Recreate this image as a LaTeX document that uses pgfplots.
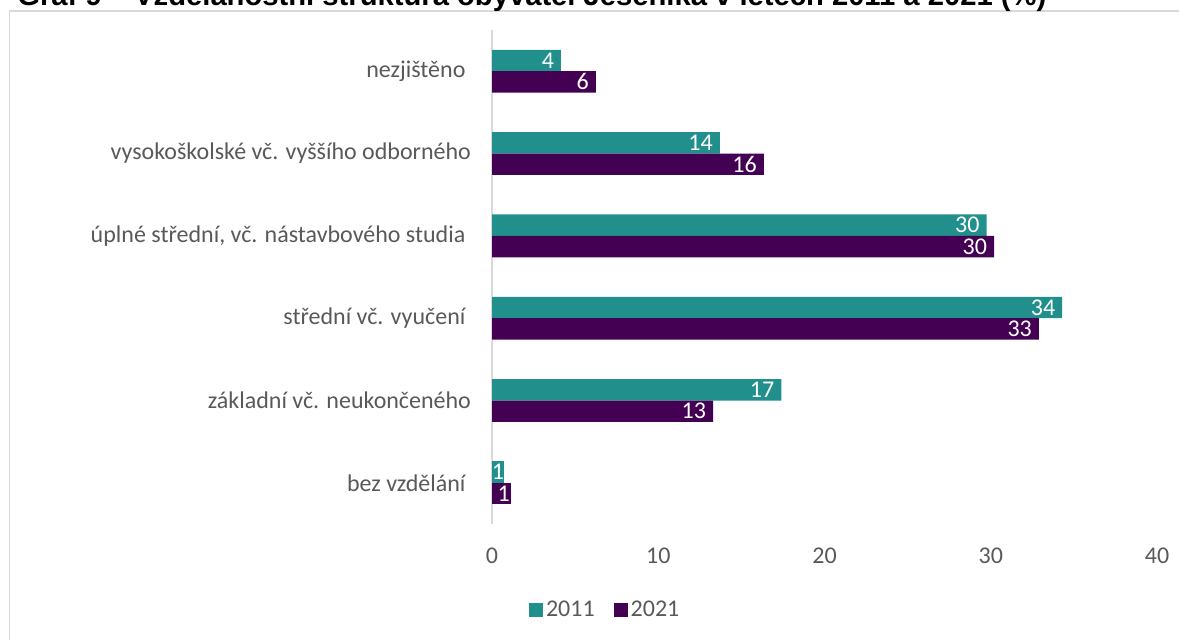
\documentclass[border=0pt]{standalone}
\usepackage{fontspec}
\setmainfont{Carlito}
\newfontfamily\titlefont{Liberation Sans}
\usepackage{pgfplots}
\usepackage{pgfplotstable}
\pgfplotsset{compat=1.18}

\definecolor{c2011}{HTML}{21908C}
\definecolor{c2021}{HTML}{440154}
\definecolor{txtgray}{HTML}{595959}
\definecolor{framegray}{HTML}{D9D9D9}

% y = category index (1 = základní ... 5 = nezjištěno); row 0 (bez vzdělání) kept apart
\pgfplotstableread{
y x lbl
5 4.15 4
4 13.7 14
3 29.75 30
2 34.3 34
1 17.4 17
}\dataA
\pgfplotstableread{
y x lbl
5 6.25 6
4 16.35 16
3 30.2 30
2 32.9 33
1 13.3 13
}\dataB
\pgfplotstableread{
y x lbl
0 0.75 1
}\dataAsmall
\pgfplotstableread{
y x lbl
0 1.15 1
}\dataBsmall

\begin{document}
\begin{tikzpicture}
\draw[framegray, line width=0.6pt] (4.75pt,-10pt) -- (4.75pt,314pt) -- (600pt,314pt);
\node[anchor=base west, inner sep=0pt, font=\titlefont\bfseries\fontsize{14.6}{16}\selectfont]
  at (8.5pt,316.5pt) {Graf 9 – Vzdělanostní struktura obyvatel Jeseníka v letech 2011 a 2021 (\%)};
\begin{axis}[
  at={(246pt,57.5pt)}, anchor=south west,
  scale only axis, width=332.5pt, height=247pt,
  xmin=0, xmax=40, ymin=-0.5, ymax=5.5,
  xtick={0,10,20,30,40},
  ytick={0,1,2,3,4,5},
  yticklabels={bez vzdělání\kern0.23em, základní vč. neukončeného, střední vč. vyučení\kern0.23em, {úplné střední, vč. nástavbového studia\kern0.23em}, vysokoškolské vč. vyššího odborného, nezjištěno\kern0.23em},
  axis x line*=bottom, x axis line style={draw=none},
  axis y line*=left, y axis line style={draw=framegray, line width=1pt},
  major tick length=0pt, tick style={draw=none},
  /pgf/number format/assume math mode=true,
  tick label style={font=\fontsize{12}{14}\selectfont, text=txtgray},
  yticklabel style={xshift=-7pt},
  xticklabel style={yshift=-8.5pt},
  xbar, bar width=0.26,
  point meta=explicit symbolic,
  nodes near coords,
  every node near coord/.append style={anchor=east, text=white, font=\fontsize{12}{14}\selectfont},
  legend columns=2,
  legend style={at={(0.171,-0.174)}, anchor=center, draw=none, fill=none,
    font=\fontsize{12}{14}\selectfont, text=txtgray,
    nodes={inner xsep=1.5pt},
    /tikz/every even column/.append style={column sep=8pt}},
  legend image code/.code={\fill[#1] (0pt,-3.5pt) rectangle (7pt,3.5pt);},
]
\addplot[fill=c2011, draw=none, bar shift=0.13] table[x=x, y=y, meta=lbl] {\dataA};
\addplot[fill=c2021, draw=none, bar shift=-0.13] table[x=x, y=y, meta=lbl] {\dataB};
\legend{2011, 2021}
\addplot[fill=c2011, draw=none, bar shift=0.13, forget plot,
  every node near coord/.append style={inner xsep=0pt}] table[x=x, y=y, meta=lbl] {\dataAsmall};
\addplot[fill=c2021, draw=none, bar shift=-0.13, forget plot,
  every node near coord/.append style={inner xsep=0.5pt}] table[x=x, y=y, meta=lbl] {\dataBsmall};
\end{axis}
\pgfresetboundingbox
\path[use as bounding box] (0,0) rectangle (589.5pt,319.5pt);
\end{tikzpicture}
\end{document}
